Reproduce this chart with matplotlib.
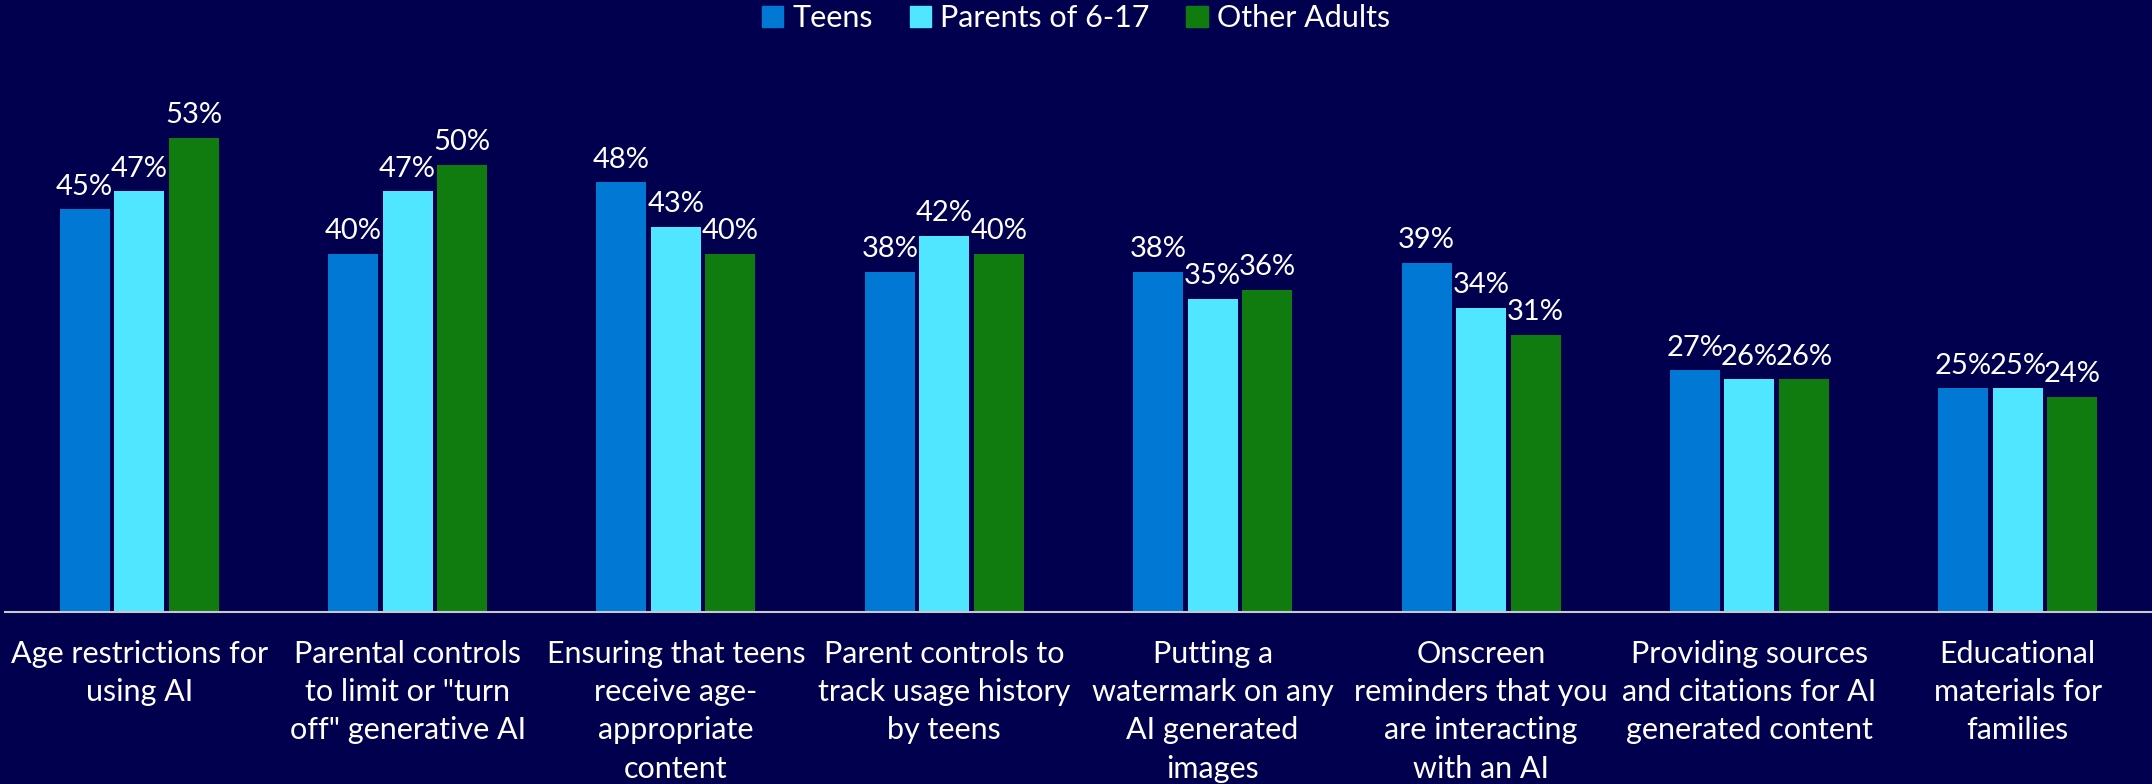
import numpy as np
import matplotlib.pyplot as plt
from matplotlib.patches import Patch

categories = [
    'Age restrictions for\nusing AI',
    'Parental controls\nto limit or "turn\noff" generative AI',
    'Ensuring that teens\nreceive age-\nappropriate\ncontent',
    'Parent controls to\ntrack usage history\nby teens',
    'Putting a\nwatermark on any\nAI generated\nimages',
    'Onscreen\nreminders that you\nare interacting\nwith an AI',
    'Providing sources\nand citations for AI\ngenerated content',
    'Educational\nmaterials for\nfamilies',
]
teens = [45, 40, 48, 38, 38, 39, 27, 25]
parents = [47, 47, 43, 42, 35, 34, 26, 25]
other_adults = [53, 50, 40, 40, 36, 31, 26, 24]

series = [('Teens', teens, '#0078D4'),
          ('Parents of 6-17', parents, '#50E6FF'),
          ('Other Adults', other_adults, '#107C10')]

bg = '#00004F'
plt.rcParams['font.family'] = ['Lato', 'DejaVu Sans']

fig = plt.figure(figsize=(21.52, 7.84), dpi=100, facecolor=bg)
ax = fig.add_axes([5 / 2152, (784 - 612) / 784, 1 - 5 / 2152, 537 / 784])
ax.set_facecolor(bg)

x = np.arange(len(categories))
width = 0.186
step = 0.203
for i, (name, vals, col) in enumerate(series):
    pos = x + (i - 1) * step
    bars = ax.bar(pos, vals, width, color=col, label=name)
    for b, v in zip(bars, vals):
        ax.annotate(f'{v}%', (b.get_x() + b.get_width() / 2, v),
                    xytext=(0, 7), textcoords='offset points',
                    ha='center', va='bottom', color='white', fontsize=21)

ax.set_xlim(-0.5, 7.5)
ax.set_ylim(0, 60)
ax.set_yticks([])
ax.set_xticks(x)
ax.set_xticklabels(categories, color='white', fontsize=22, linespacing=1.45)
ax.tick_params(axis='x', length=0, pad=20)
for s in ['top', 'right', 'left']:
    ax.spines[s].set_visible(False)
ax.spines['bottom'].set_color('#C8C8C8')
ax.spines['bottom'].set_linewidth(1.5)

handles = [Patch(color=c, label=n) for n, _, c in series]
fig.legend(handles=handles, loc='upper center', bbox_to_anchor=(0.5, 1.03),
           ncol=3, frameon=False, fontsize=22, labelcolor='white',
           handlelength=0.7, handleheight=0.7, handletextpad=0.3,
           columnspacing=1.2)

plt.savefig('out.png', facecolor=bg)
